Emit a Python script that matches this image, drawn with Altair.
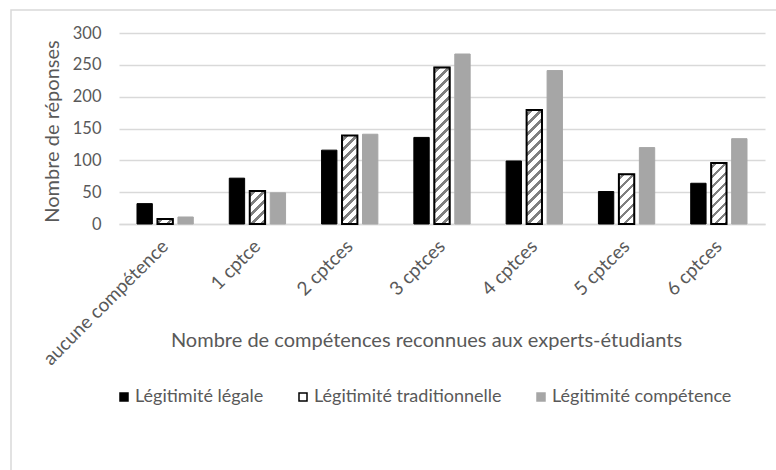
import altair as alt
import pandas as pd

# Categories (x axis), series and counts
categories = ["aucune compétence", "1 cptce", "2 cptces", "3 cptces",
              "4 cptces", "5 cptces", "6 cptces"]
series = ["Légitimité légale", "Légitimité traditionnelle", "Légitimité compétence"]
legale = [32, 72, 116, 136, 99, 51, 64]
traditionnelle = [8, 52, 139, 246, 179, 78, 96]
competence = [11, 49, 141, 267, 241, 120, 134]
y_ticks = [0, 50, 100, 150, 200, 250, 300]

FONT = "Lato"
TEXT = "#595959"
GRID = "#d9d9d9"
PLOT_W, PLOT_H = 646, 191
Y_MAX = 300
X_PAD_IN, X_PAD_OUT = 0.39, 0.195
OFF_PAD_IN = 0.25

rows = []
for s, vals in zip(series, [legale, traditionnelle, competence]):
    for c, v in zip(categories, vals):
        rows.append({"cat": c, "serie": s, "n": v})
df = pd.DataFrame(rows)

x_enc = alt.X(
    "cat:N", sort=categories,
    scale=alt.Scale(paddingInner=X_PAD_IN, paddingOuter=X_PAD_OUT),
    axis=alt.Axis(labelAngle=-45, labelAlign="right", labelBaseline="middle",
                  labelPadding=19, ticks=False, domainColor=GRID, domainWidth=1.5,
                  labelFontSize=19, titleFontSize=20, labelLimit=0,
                  titleX=307, titleY=116, titleBaseline="middle", titleAlign="center"),
    title="Nombre de compétences reconnues aux experts-étudiants",
)
xoff_enc = alt.XOffset(
    "serie:N", sort=series,
    scale=alt.Scale(domain=series, paddingInner=OFF_PAD_IN, paddingOuter=0),
)
y_enc = alt.Y(
    "n:Q",
    scale=alt.Scale(domain=[0, Y_MAX], nice=False),
    axis=alt.Axis(values=y_ticks, domain=False, ticks=False, labelPadding=18,
                  gridColor=GRID, gridWidth=1.5, labelFontSize=16.5, titleFontSize=20,
                  titleX=-67, titleY=98, titleBaseline="middle", titleAlign="center"),
    title="Nombre de réponses",
)

# Width of one bar in pixels, from the band scale parameters
n_cat = len(categories)
step = PLOT_W / (n_cat - X_PAD_IN + 2 * X_PAD_OUT)
band = step * (1 - X_PAD_IN)
sub_step = band / (len(series) - OFF_PAD_IN)
BAR_W = sub_step * (1 - OFF_PAD_IN)


def hatch(w, h, period=10.0, frac=0.36, ink="#808080"):
    """Diagonal '///' stripes as a bounding-box linear gradient."""
    total = w + h
    k = total / (w * w + h * h)
    stops = [alt.GradientStop(offset=0, color="white")]
    pos = period * 0.3
    while pos < total:
        a = pos / total
        b = min((pos + period * frac) / total, 1.0)
        stops += [
            alt.GradientStop(offset=a, color="white"),
            alt.GradientStop(offset=a, color=ink),
            alt.GradientStop(offset=b, color=ink),
            alt.GradientStop(offset=b, color="white"),
        ]
        pos += period
    stops.append(alt.GradientStop(offset=1, color="white"))
    return alt.LinearGradient(gradient="linear", x1=0, y1=0,
                              x2=w * k, y2=h * k, stops=stops)


legend = alt.Legend(
    title=None, orient="none", direction="horizontal",
    legendX=-4, legendY=355,
    symbolType="square", symbolSize=64, symbolStrokeWidth=1.5,
    labelFontSize=18, labelColor=TEXT, labelFont=FONT, labelLimit=0,
    labelOffset=2, columnPadding=30,
)

bars = alt.Chart(df).mark_bar(strokeWidth=1).encode(
    x=x_enc, xOffset=xoff_enc, y=y_enc,
    fill=alt.Fill("serie:N", sort=series,
                  scale=alt.Scale(domain=series, range=["#000000", "#ffffff", "#a6a6a6"]),
                  legend=legend),
    stroke=alt.Stroke("serie:N", sort=series,
                      scale=alt.Scale(domain=series, range=["#000000", "#000000", "#a6a6a6"]),
                      legend=legend),
)

# Hatched overlay for the "traditionnelle" series, one layer per bar
hatched = []
for c, v in zip(categories, traditionnelle):
    h = v * PLOT_H / Y_MAX
    hatched.append(
        alt.Chart(df)
        .transform_filter((alt.datum.cat == c) & (alt.datum.serie == series[1]))
        .mark_bar(fill=hatch(BAR_W, h), stroke="black", strokeWidth=2)
        .encode(x=x_enc, xOffset=xoff_enc, y=y_enc)
    )

# Light outer frame around the figure
frame = alt.Chart(pd.DataFrame({"k": [0]})).mark_rect(
    fillOpacity=0, stroke=GRID, strokeWidth=1.5
).encode(
    x=alt.value(-108), x2=alt.value(665), y=alt.value(-23), y2=alt.value(450)
)

chart = alt.layer(frame, bars, *hatched).properties(
    width=PLOT_W, height=PLOT_H,
    padding={"left": 119, "top": 33, "right": 11, "bottom": 246},
    autosize=alt.AutoSizeParams(type="none"),
    background="white",
).configure_view(stroke=None).configure_axis(
    labelFont=FONT, titleFont=FONT, labelColor=TEXT, titleColor=TEXT,
    titleFontWeight="normal",
)

chart.save("out.html", embed_options={"renderer": "svg", "actions": False})
